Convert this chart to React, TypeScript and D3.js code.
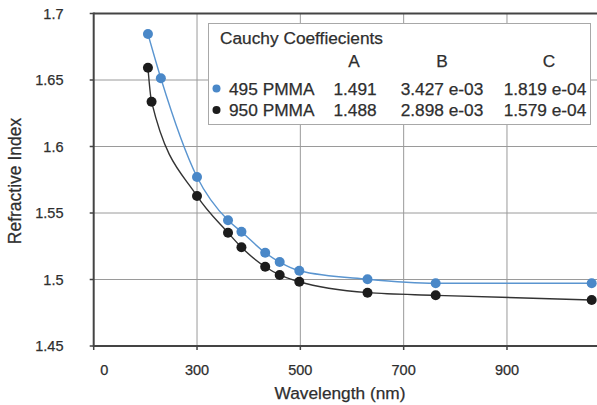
import React from "react";
import * as d3 from "d3";

const W = 597;
const H = 405;

const xTicks = [100, 300, 500, 700, 900];
const xTickLabels = ["0", "300", "500", "700", "900"];
const xGrid = [300, 500, 700, 900];
const yTicks = [1.45, 1.5, 1.55, 1.6, 1.65, 1.7];
const yTickLabels = ["1.45", "1.5", "1.55", "1.6", "1.65", "1.7"];
const yGrid = [1.5, 1.55, 1.6, 1.65];

const pmma495X = [205, 230, 300, 360, 386, 432, 460, 498, 630, 762, 1064];
const pmma495Y = [1.6846, 1.6513, 1.5771, 1.5445, 1.5359, 1.5201, 1.5131, 1.5066, 1.5002, 1.4972, 1.4972];
const pmma950X = [205, 212, 300, 360, 386, 432, 460, 498, 630, 762, 1064];
const pmma950Y = [1.6592, 1.6337, 1.5628, 1.5352, 1.5242, 1.5096, 1.5034, 1.4983, 1.4901, 1.4881, 1.4846];

const legendTitle = "Cauchy Coeffiecients";
const coefHeaders = ["A", "B", "C"];
const seriesNames = ["495 PMMA", "950 PMMA"];
const coefA = ["1.491", "1.488"];
const coefB = ["3.427 e-03", "2.898 e-03"];
const coefC = ["1.819 e-04", "1.579 e-04"];

const BLUE = "#4a88c8";
const BLUE_LINE = "#5a95d0";
const BLACK = "#1c1c1c";
const BLACK_LINE = "#333333";
const TEXT = "#2e2e2e";
const FONT = "'Liberation Sans', Arial, Helvetica, sans-serif";

export default function App() {
  const x = d3.scaleLinear().domain([100, 1100]).range([93.7, 610.3]);
  const y = d3.scaleLinear().domain([1.45, 1.7]).range([346, 13.5]);

  const line = d3
    .line<[number, number]>()
    .x((d) => x(d[0]))
    .y((d) => y(d[1]))
    .curve(d3.curveMonotoneX);

  const s495 = pmma495X.map((v, i) => [v, pmma495Y[i]] as [number, number]);
  const s950 = pmma950X.map((v, i) => [v, pmma950Y[i]] as [number, number]);
  const series = [
    { data: s950, fill: BLACK, stroke: BLACK_LINE },
    { data: s495, fill: BLUE, stroke: BLUE_LINE },
  ];

  const left = x(100);
  const right = x(1100);
  const top = y(1.7);
  const bottom = y(1.45);

  const colA = 355;
  const colB = 442;
  const colC = 545;
  const LF = 17.3;
  const textStyle = { stroke: TEXT, strokeWidth: 0.25 } as const;

  return (
    <svg
      width={W}
      height={H}
      style={{ position: "absolute", left: 0, top: 0, background: "#fff" }}
      fontFamily={FONT}
    >
      {/* grid */}
      {xGrid.map((t) => (
        <line key={"gx" + t} x1={x(t)} x2={x(t)} y1={top} y2={bottom} stroke="#9a9a9a" strokeWidth={1} />
      ))}
      {yGrid.map((t) => (
        <line key={"gy" + t} x1={left} x2={right} y1={y(t)} y2={y(t)} stroke="#9a9a9a" strokeWidth={1} />
      ))}

      {/* legend box */}
      <rect x={208.5} y={23.5} width={382} height={101} fill="#fff" stroke="#a8a8a8" strokeWidth={1} />
      <text x={220} y={44} fontSize={LF} fill={TEXT} {...textStyle}>{legendTitle}</text>
      {coefHeaders.map((h, i) => (
        <text key={h} x={[354, colB, colC + 4][i]} y={67} fontSize={LF} fill={TEXT} textAnchor="middle" {...textStyle}>
          {h}
        </text>
      ))}
      {seriesNames.map((n, i) => (
        <g key={n}>
          <circle cx={216.5} cy={88.5 + i * 21.5} r={4} fill={i === 0 ? BLUE : BLACK} />
          <text x={229} y={94.5 + i * 21.5} fontSize={LF} fill={TEXT} {...textStyle}>{n}</text>
          <text x={colA} y={94.5 + i * 21.5} fontSize={LF} fill={TEXT} textAnchor="middle" {...textStyle}>{coefA[i]}</text>
          <text x={colB} y={94.5 + i * 21.5} fontSize={LF} fill={TEXT} textAnchor="middle" {...textStyle}>{coefB[i]}</text>
          <text x={colC} y={94.5 + i * 21.5} fontSize={LF} fill={TEXT} textAnchor="middle" {...textStyle}>{coefC[i]}</text>
        </g>
      ))}

      {/* series */}
      {series.map((s, i) => (
        <g key={i}>
          <path d={line(s.data) || ""} fill="none" stroke={s.stroke} strokeWidth={1.4} />
          {s.data.map((d, j) => (
            <circle key={j} cx={x(d[0])} cy={y(d[1])} r={5} fill={s.fill} />
          ))}
        </g>
      ))}

      {/* axes frame */}
      <line x1={left} x2={right} y1={top} y2={top} stroke="#444" strokeWidth={2} />
      <line x1={left} x2={left} y1={top - 1} y2={bottom + 1} stroke="#444" strokeWidth={2} />
      <line x1={left} x2={right} y1={bottom} y2={bottom} stroke="#444" strokeWidth={2} />
      <line x1={right} x2={right} y1={top} y2={bottom} stroke="#444" strokeWidth={2} />

      {/* y ticks */}
      {yTicks.map((t, i) => (
        <g key={"yt" + t}>
          <line x1={left - 4} x2={left} y1={y(t)} y2={y(t)} stroke="#444" strokeWidth={1.5} />
          <text x={63.5} y={y(t)} dy="0.36em" fontSize={14.5} fill={TEXT} textAnchor="end" {...textStyle}>
            {yTickLabels[i]}
          </text>
        </g>
      ))}

      {/* x ticks */}
      {xTicks.map((t, i) => (
        <g key={"xt" + t}>
          <line x1={x(t)} x2={x(t)} y1={bottom} y2={bottom + 4} stroke="#444" strokeWidth={1.5} />
          <text x={x(t) + (i === 0 ? 10.5 : 0)} y={370} dy="0.36em" fontSize={14.5} fill={TEXT} textAnchor="middle" {...textStyle}>
            {xTickLabels[i]}
          </text>
        </g>
      ))}

      <text x={340} y={393} dy="0.36em" fontSize={17.3} fill={TEXT} textAnchor="middle" {...textStyle}>
        Wavelength (nm)
      </text>
      <text
        transform={`translate(15,181) rotate(-90)`}
        dy="0.36em"
        fontSize={17.5}
        fill={TEXT}
        textAnchor="middle"
        {...textStyle}
      >
        Refractive Index
      </text>
    </svg>
  );
}
